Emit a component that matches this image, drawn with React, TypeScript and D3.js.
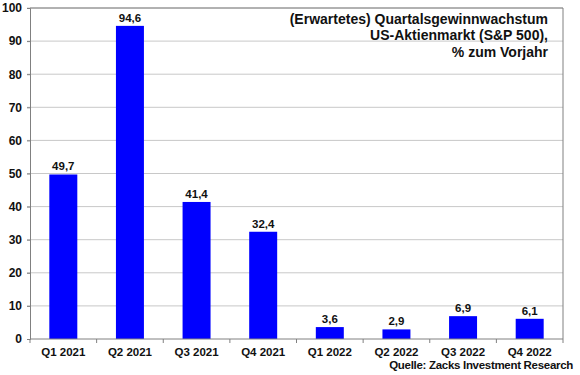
import React, { useEffect, useRef } from 'react'
import * as d3 from 'd3'

const quarters = ['Q1 2021', 'Q2 2021', 'Q3 2021', 'Q4 2021', 'Q1 2022', 'Q2 2022', 'Q3 2022', 'Q4 2022']
const growth = [49.7, 94.6, 41.4, 32.4, 3.6, 2.9, 6.9, 6.1]
const yTicks = [0, 10, 20, 30, 40, 50, 60, 70, 80, 90, 100]
const titleLines = ['(Erwartetes) Quartalsgewinnwachstum', 'US-Aktienmarkt (S&P 500),', '% zum Vorjahr']
const source = 'Quelle: Zacks Investment Research'

export default function App() {
  const ref = useRef<SVGSVGElement>(null)

  useEffect(() => {
    const w = 580
    const h = 375
    const margin = { top: 8, right: 17, bottom: 36, left: 30 }
    const font = 'Liberation Sans, Arial, sans-serif'

    const svg = d3.select(ref.current).attr('width', w).attr('height', h)
    svg.selectAll('*').remove()

    const x = d3.scaleBand().domain(quarters).range([margin.left, w - margin.right]).paddingInner(0.58).paddingOuter(0.29)
    const y = d3.scaleLinear().domain([0, 100]).range([h - margin.bottom, margin.top])

    // grid
    svg.append('g').selectAll('line').data(yTicks.slice(1)).join('line')
      .attr('x1', margin.left - 3).attr('x2', w - margin.right)
      .attr('y1', d => y(d)).attr('y2', d => y(d))
      .attr('stroke', '#c8c8c8').attr('stroke-width', 1)

    // frame right side
    svg.append('line').attr('x1', w - margin.right).attr('x2', w - margin.right)
      .attr('y1', margin.top).attr('y2', y(0)).attr('stroke', '#808080')

    // bars
    svg.append('g').selectAll('rect').data(growth).join('rect')
      .attr('x', (d, i) => x(quarters[i])!)
      .attr('y', d => y(d))
      .attr('width', x.bandwidth())
      .attr('height', d => y(0) - y(d))
      .attr('fill', '#0000ff')

    // value labels
    svg.append('g').selectAll('text').data(growth).join('text')
      .attr('x', (d, i) => x(quarters[i])! + x.bandwidth() / 2)
      .attr('y', d => y(d) - 4)
      .attr('text-anchor', 'middle')
      .attr('font-family', font).attr('font-weight', 'bold').attr('font-size', 11.5)
      .attr('fill', '#111')
      .text(d => d.toFixed(1).replace('.', ','))

    // y axis
    const yAxis = svg.append('g').attr('transform', `translate(${margin.left},0)`)
      .call(d3.axisLeft(y).tickValues(yTicks).tickSize(3).tickPadding(5))
    yAxis.select('.domain').attr('stroke', '#808080')
    yAxis.selectAll('.tick line').attr('stroke', '#808080')
    yAxis.selectAll('.tick text').attr('font-family', font).attr('font-weight', 'bold')
      .attr('font-size', 12).attr('fill', '#111')

    // x axis
    const step = x.step()
    const xAxis = svg.append('g').attr('transform', `translate(0,${y(0)})`)
    xAxis.append('line').attr('x1', margin.left).attr('x2', w - margin.right)
      .attr('stroke', '#808080')
    xAxis.selectAll('.sep').data(d3.range(quarters.length + 1)).join('line')
      .attr('class', 'sep')
      .attr('x1', i => margin.left + i * step).attr('x2', i => margin.left + i * step)
      .attr('y1', 0).attr('y2', 4).attr('stroke', '#808080')
    xAxis.selectAll('.lbl').data(quarters).join('text')
      .attr('class', 'lbl')
      .attr('x', d => x(d)! + x.bandwidth() / 2)
      .attr('y', 17)
      .attr('text-anchor', 'middle')
      .attr('font-family', font).attr('font-weight', 'bold').attr('font-size', 11.5)
      .attr('fill', '#111')
      .text(d => d)

    // top frame
    svg.append('line').attr('x1', margin.left).attr('x2', w - margin.right)
      .attr('y1', margin.top).attr('y2', margin.top).attr('stroke', '#808080')

    // title
    svg.append('g').selectAll('text').data(titleLines).join('text')
      .attr('x', 548)
      .attr('y', (d, i) => 23.5 + i * 16.5)
      .attr('text-anchor', 'end')
      .attr('font-family', font).attr('font-weight', 'bold').attr('font-size', 14)
      .attr('fill', '#111')
      .text(d => d)

    // source
    svg.append('text')
      .attr('x', 573).attr('y', 369)
      .attr('text-anchor', 'end')
      .attr('font-family', font).attr('font-weight', 'bold').attr('font-size', 11.5)
      .attr('letter-spacing', -0.3)
      .attr('fill', '#111')
      .text(source)
  }, [])

  return (
    <div style={{ position: 'absolute', left: 0, top: 0 }}>
      <svg ref={ref} style={{ display: 'block', background: '#fff' }}></svg>
    </div>
  )
}
